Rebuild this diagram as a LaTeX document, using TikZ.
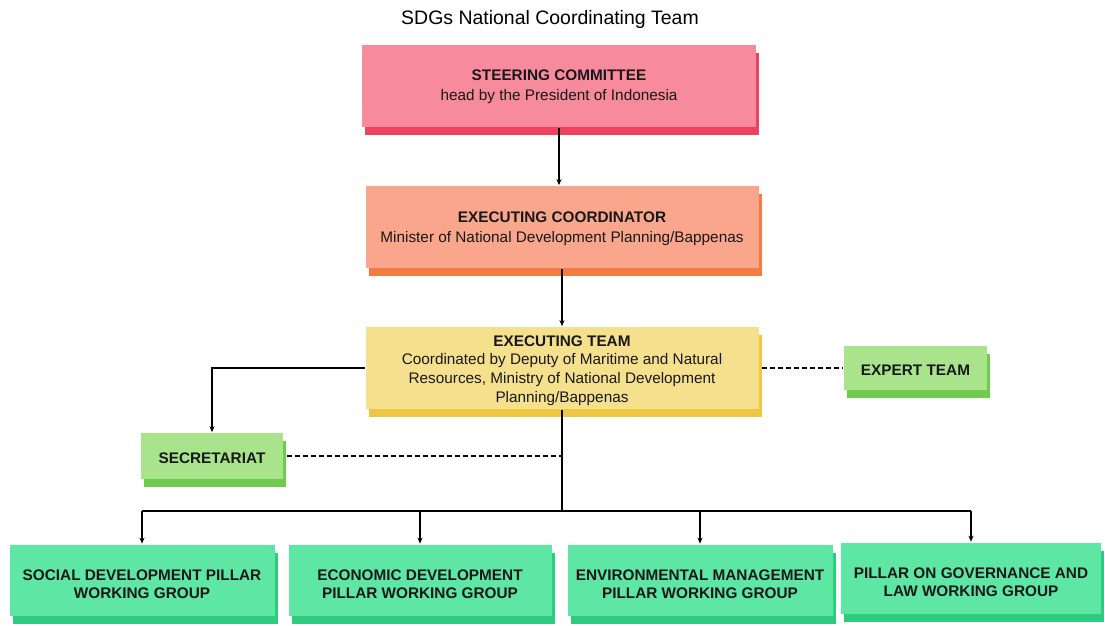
\documentclass[tikz,border=0pt]{standalone}
\usepackage{fontspec}
\setmainfont{Liberation Sans}
\usetikzlibrary{shadows, arrows.meta}
\definecolor{steerfill}{HTML}{F78A9C}
\definecolor{steershade}{HTML}{F2405F}
\definecolor{coordfill}{HTML}{F9A68C}
\definecolor{coordshade}{HTML}{F57B45}
\definecolor{teamfill}{HTML}{F5E08E}
\definecolor{teamshade}{HTML}{EFC640}
\definecolor{sidefill}{HTML}{A9E38C}
\definecolor{sideshade}{HTML}{6ECB4E}
\definecolor{pillarfill}{HTML}{5EE6A5}
\definecolor{pillarshade}{HTML}{2ECC7E}

\begin{document}
\begin{tikzpicture}[x=0.75pt, y=-0.75pt, line width=1.3pt, >={Stealth[length=4.5pt,width=3.8pt]},
	orgbox/.style 2 args={inner sep=0pt, fill=#1,
		drop shadow={shadow xshift=2.25pt, shadow yshift=-6pt, fill=#2, opacity=1}},
	boxtext/.style={inner sep=0pt, align=center, text=black!90, font=\fontsize{11.5}{#1}\selectfont},
	boxtext/.default=15,
	pillarbox/.style={orgbox={pillarfill}{pillarshade}, minimum height=53.25pt},
	pillartext/.style={boxtext=13.5, font=\fontsize{11.5}{13.5}\selectfont\bfseries},
	dashline/.style={dash pattern=on 3.5pt off 2.5pt}]
			\useasboundingbox (0,0) rectangle (1105,625);
			\node (title) at (550,19) {\fontsize{14.6}{17}\selectfont SDGs National Coordinating Team};
			% boxes
			\node[orgbox={steerfill}{steershade}, minimum width=295.5pt, minimum height=61.5pt] (steer) at (559,86) {};
			\node[orgbox={coordfill}{coordshade}, minimum width=294.75pt, minimum height=61.5pt] (coord) at (562,227) {};
			\node[orgbox={teamfill}{teamshade}, minimum width=294.75pt, minimum height=61.5pt] (team) at (562,368) {};
			\node[orgbox={sidefill}{sideshade}, minimum width=106.5pt, minimum height=34.5pt] (secr) at (212,456) {};
			\node[orgbox={sidefill}{sideshade}, minimum width=107.25pt, minimum height=33pt] (expert) at (915.5,368) {};
			\node[pillarbox, minimum width=198.75pt] (social) at (142,580) {};
			\node[pillarbox, minimum width=197.25pt] (economic) at (420,580) {};
			\node[pillarbox, minimum width=198.75pt] (environ) at (700,580) {};
			\node[pillarbox, minimum width=195pt] (govern) at (971,578) {};
			% texts
			\node[boxtext] (steertext) at (559,87) {\textbf{STEERING COMMITTEE}\\head by the President of Indonesia};
			\node[boxtext] (coordtext) at (562,228.5) {\textbf{EXECUTING COORDINATOR}\\Minister of National Development Planning/Bappenas};
			\node[boxtext=14] (teamtext) at (562,370.5) {\textbf{EXECUTING TEAM}\\Coordinated by Deputy of Maritime and Natural\\Resources, Ministry of National Development\\Planning/Bappenas};
			\node[boxtext, font=\fontsize{11.5}{14}\selectfont\bfseries] (secrtext) at (212,458) {SECRETARIAT};
			\node[boxtext, font=\fontsize{11.5}{14}\selectfont\bfseries] (experttext) at (915.5,370) {EXPERT TEAM};
			\node[pillartext] (socialtext) at (142,584) {SOCIAL DEVELOPMENT PILLAR\\WORKING GROUP};
			\node[pillartext] (economictext) at (420,584) {ECONOMIC DEVELOPMENT\\PILLAR WORKING GROUP};
			\node[pillartext] (environtext) at (700,584) {ENVIRONMENTAL MANAGEMENT\\PILLAR WORKING GROUP};
			\node[pillartext] (governtext) at (971,582) {PILLAR ON GOVERNANCE AND\\LAW WORKING GROUP};
			% connectors
			\coordinate (bus) at (562,511);
			\draw [->] (steer.south) -- (steer.south |- coord.north);
			\draw [->] (coord.south) -- (team.north);
			\draw [->] (team.west) -| (secr.north);
			\draw [dashline] (team.east) ++(3,0) -- (expert.west);
			\draw (team.south) -- (bus);
			\draw [dashline] (secr.east) ++(3,0) -- (bus |- secr.east);
			\draw (social.north |- bus) -- (govern.north |- bus);
			\foreach \pillar in {social, economic, environ, govern}
				\draw [->] (\pillar.north |- bus) -- (\pillar.north);
			\end{tikzpicture}
\end{document}
